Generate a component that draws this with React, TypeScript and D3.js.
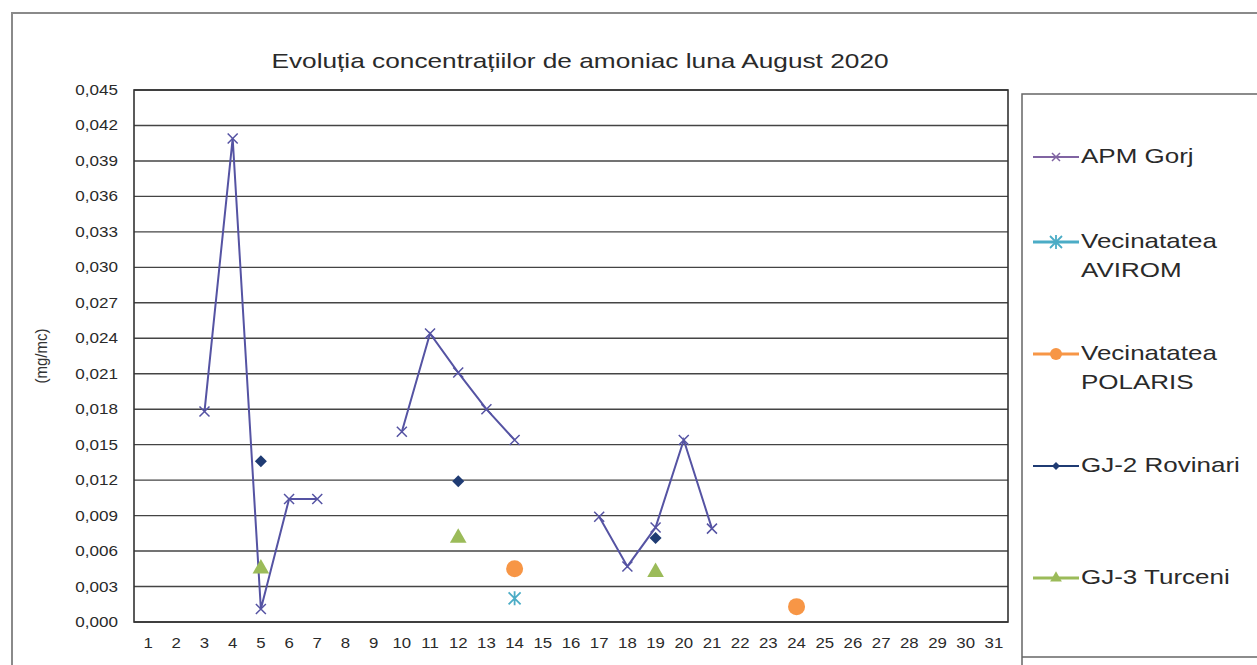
import { useMemo } from "react";
import * as d3 from "d3";

const days = d3.range(1, 32);
const yTicks = d3.range(0, 0.0451, 0.003);

// null = no measurement that day
const apmGorj: (number | null)[] = [
  null, null, 0.0178, 0.0409, 0.0011, 0.0104, 0.0104, null, null, 0.0161,
  0.0244, 0.0211, 0.018, 0.0154, null, null, 0.0089, 0.0047, 0.008, 0.0154,
  0.0079,
];
const avirom: [number, number][] = [[14, 0.002]];
const polaris: [number, number][] = [[14, 0.0045], [24, 0.0013]];
const rovinari: [number, number][] = [[5, 0.0136], [12, 0.0119], [19, 0.0071]];
const turceni: [number, number][] = [[5, 0.0046], [12, 0.0072], [19, 0.0043]];

const COLORS: Record<string, string> = {
  apm: "#5553a3",
  apmLegend: "#8064a2",
  avirom: "#4bacc6",
  polaris: "#f79646",
  rovinari: "#1f3b73",
  turceni: "#9bbb59",
};

const FONT = "'Liberation Sans', Arial, sans-serif";

const W = 1257;
const H = 665;
const plot = { left: 134, right: 1008, top: 90, bottom: 622 };

// the source picture is stretched sideways, so text is widened a bit
function WideText({
  x, y, sx, anchor = "start", size, children,
}: { x: number; y: number; sx: number; anchor?: string; size: number; children: any }) {
  return (
    <text
      transform={`translate(${x},${y}) scale(${sx},1)`}
      textAnchor={anchor}
      fontSize={size}
      fill="#2a2a2a"
    >
      {children}
    </text>
  );
}

function XMark({ x, y, color, size = 5 }: { x: number; y: number; color: string; size?: number }) {
  return (
    <path
      d={`M${x - size},${y - size}L${x + size},${y + size}M${x - size},${y + size}L${x + size},${y - size}`}
      stroke={color}
      strokeWidth={1.5}
    />
  );
}

function StarMark({ x, y, color }: { x: number; y: number; color: string }) {
  const s = 6;
  return (
    <path
      d={`M${x - s},${y - s}L${x + s},${y + s}M${x - s},${y + s}L${x + s},${y - s}M${x},${y - s - 1}L${x},${y + s + 1}`}
      stroke={color}
      strokeWidth={1.8}
    />
  );
}

function Diamond({ x, y, r, color }: { x: number; y: number; r: number; color: string }) {
  return <path d={`M${x},${y - r}L${x + r},${y}L${x},${y + r}L${x - r},${y}Z`} fill={color} />;
}

export default function App() {
  const x = useMemo(
    () => d3.scaleBand<number>().domain(days).range([plot.left, plot.right]),
    []
  );
  const y = useMemo(
    () => d3.scaleLinear().domain([0, 0.045]).range([plot.bottom, plot.top]),
    []
  );
  const cx = (d: number) => (x(d) ?? 0) + x.bandwidth() / 2;

  const apmPoints = apmGorj.map((v, i) => ({ day: i + 1, v }));
  const line = d3
    .line<{ day: number; v: number | null }>()
    .defined((d) => d.v !== null)
    .x((d) => cx(d.day))
    .y((d) => y(d.v as number));

  const fmt = (v: number) => d3.format(".3f")(v).replace(".", ",");
  const tri = d3.symbol().type(d3.symbolTriangle).size(120)();
  const triSmall = d3.symbol().type(d3.symbolTriangle).size(60)();

  const legendX = 1033;
  const legend = [
    { key: "apm", lines: ["APM Gorj"], y: 163 },
    { key: "avirom", lines: ["Vecinatatea", "AVIROM"], y: 248 },
    { key: "polaris", lines: ["Vecinatatea", "POLARIS"], y: 360 },
    { key: "rovinari", lines: ["GJ-2 Rovinari"], y: 472 },
    { key: "turceni", lines: ["GJ-3 Turceni"], y: 584 },
  ];

  return (
    <svg
      width={W}
      height={H}
      style={{ position: "absolute", left: 0, top: 0, background: "#fff" }}
      fontFamily={FONT}
    >
      <rect x={0} y={0} width={W} height={H} fill="#fff" />
      {/* outer chart frame */}
      <path d={`M12,${H}L12,13L${W},13`} fill="none" stroke="#8a8a8a" strokeWidth={2} />

      <WideText x={580} y={68} sx={1.25} anchor="middle" size={21}>
        Evoluția concentrațiilor de amoniac luna August 2020
      </WideText>

      {/* gridlines */}
      {yTicks.map((t) => (
        <line
          key={t}
          x1={plot.left}
          x2={plot.right}
          y1={y(t)}
          y2={y(t)}
          stroke="#444"
          strokeWidth={1.4}
        />
      ))}
      <rect
        x={plot.left}
        y={plot.top}
        width={plot.right - plot.left}
        height={plot.bottom - plot.top}
        fill="none"
        stroke="#333"
        strokeWidth={1.6}
      />

      {/* y axis labels */}
      {yTicks.map((t) => (
        <WideText key={t} x={118} y={y(t) + 5} sx={1.22} anchor="end" size={14}>
          {fmt(t)}
        </WideText>
      ))}
      <text
        transform={`translate(47,${(plot.top + plot.bottom) / 2}) rotate(-90) scale(1.15,1.2)`}
        textAnchor="middle"
        fontSize={13}
        fill="#333"
      >
        (mg/mc)
      </text>

      {/* x axis labels */}
      {days.map((d) => (
        <WideText key={d} x={cx(d)} y={648} sx={1.2} anchor="middle" size={14}>
          {d}
        </WideText>
      ))}

      {/* APM Gorj */}
      <path d={line(apmPoints) ?? ""} fill="none" stroke={COLORS.apm} strokeWidth={2} />
      {apmPoints
        .filter((d) => d.v !== null)
        .map((d) => (
          <XMark key={d.day} x={cx(d.day)} y={y(d.v as number)} color={COLORS.apm} />
        ))}

      {avirom.map(([d, v]) => (
        <StarMark key={d} x={cx(d)} y={y(v)} color={COLORS.avirom} />
      ))}
      {polaris.map(([d, v]) => (
        <circle key={d} cx={cx(d)} cy={y(v)} r={8.5} fill={COLORS.polaris} />
      ))}
      {rovinari.map(([d, v]) => (
        <Diamond key={d} x={cx(d)} y={y(v)} r={6} color={COLORS.rovinari} />
      ))}
      {turceni.map(([d, v]) => (
        <path key={d} d={tri ?? ""} transform={`translate(${cx(d)},${y(v) + 1})`} fill={COLORS.turceni} />
      ))}

      {/* legend */}
      <path d={`M1022,${H}L1022,94L${W},94`} fill="none" stroke="#666" strokeWidth={1.5} />
      <line x1={1022} x2={W} y1={657} y2={657} stroke="#666" strokeWidth={1.5} />
      {legend.map((l) => {
        const ly = l.y - 6;
        const color = l.key === "apm" ? COLORS.apmLegend : COLORS[l.key];
        const mx = legendX + 23;
        return (
          <g key={l.key}>
            <line
              x1={legendX}
              x2={legendX + 46}
              y1={ly}
              y2={ly}
              stroke={color}
              strokeWidth={l.key === "rovinari" || l.key === "apm" ? 2 : 3}
            />
            {l.key === "apm" && <XMark x={mx} y={ly} color={color} size={4} />}
            {l.key === "avirom" && <StarMark x={mx} y={ly} color={color} />}
            {l.key === "polaris" && <circle cx={mx} cy={ly} r={6} fill={color} />}
            {l.key === "rovinari" && <Diamond x={mx} y={ly} r={4} color={color} />}
            {l.key === "turceni" && (
              <path d={triSmall ?? ""} transform={`translate(${mx},${ly})`} fill={color} />
            )}
            {l.lines.map((t, i) => (
              <WideText key={i} x={legendX + 48} y={l.y + i * 29} sx={1.3} size={20}>
                {t}
              </WideText>
            ))}
          </g>
        );
      })}
    </svg>
  );
}
